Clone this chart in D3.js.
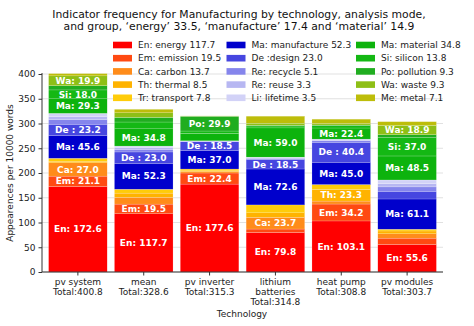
<!DOCTYPE html>
<html><head><meta charset="utf-8">
<script src="https://cdn.jsdelivr.net/npm/d3@7/dist/d3.min.js"></script>
<style>
body{margin:0;background:#fff}
text{font-family:"DejaVu Sans",sans-serif}
</style>
</head><body>
<svg id="chart" width="474" height="326"></svg>
<script>
// ---------- data ----------
const technologies = ["pv system","mean","pv inverter","lithium batteries","heat pump","pv modules"];
const xTickLabels = [["pv system","Total:400.8"],["mean","Total:328.6"],["pv inverter","Total:315.3"],
  ["lithium","batteries","Total:314.8"],["heat pump","Total:308.8"],["pv modules","Total:303.7"]];
const indicatorNames = ["En: energy","Em: emission","Ca: carbon","Th: thermal","Tr: transport",
  "Ma: manufacture","De :design","Re: recycle","Re: reuse","Li: lifetime",
  "Ma: material","Si: silicon","Po: pollution","Wa: waste","Me: metal"];
const legendValues = [117.7,19.5,13.7,8.5,7.8,52.3,23.0,5.1,3.3,3.5,34.8,13.8,9.3,9.3,7.1];
const energy      = [172.6,117.7,177.6,79.8,103.1,55.6];
const emission    = [21.1,19.5,22.4,7.0,34.2,12.8];
const carbon      = [27.0,13.7,3.0,23.7,6.0,8.8];
const thermal     = [3.0,8.5,1.5,9.0,23.3,5.7];
const transport   = [6.0,7.8,3.5,16.0,10.0,3.5];
const manufacture = [45.6,52.3,37.0,72.6,45.0,61.1];
const design      = [23.2,23.0,18.5,18.5,40.4,14.4];
const recycle     = [9.5,5.1,0.5,2.5,3.0,10.0];
const reuse       = [6.0,3.3,0.5,1.5,1.5,7.0];
const lifetime    = [6.5,3.5,0.5,1.5,2.0,7.0];
const material    = [29.3,34.8,14.8,59.0,22.4,48.5];
const silicon     = [18.0,13.8,5.0,3.9,5.0,37.0];
const pollution   = [8.5,9.3,29.9,1.2,1.0,5.9];
const waste       = [19.9,9.3,0.3,4.4,3.0,18.9];
const metal       = [4.6,7.1,0.3,14.2,8.9,7.5];
const yTicks = [0,50,100,150,200,250,300,350,400];
const titleLines = ["Indicator frequency for Manufacturing by technology, analysis mode,",
  "and group, \u2018energy\u2019 33.5, \u2018manufacture\u2019 17.4 and \u2018material\u2019 14.9"];

// ---------- styles ----------
const colors = ["#ff0000","#ff4a12","#ff8c1a","#ffb300","#ffcc0a",
  "#0000cc","#4646e0","#8585ec","#b7b7f2","#d2d2f7",
  "#0db30d","#14b814","#20ad20","#8ebf16","#bdbd0a"];

const series = [energy,emission,carbon,thermal,transport,manufacture,design,recycle,reuse,lifetime,
  material,silicon,pollution,waste,metal];

const svg = d3.select("#chart");
const x = d3.scaleBand().domain(technologies).range([42,443]).paddingInner(0.11).paddingOuter(0.1);
const y = d3.scaleLinear().domain([0,400]).range([272,74]);

// grid
svg.append("g").selectAll("line").data(yTicks).join("line")
  .attr("x1",42).attr("x2",443).attr("y1",d=>y(d)).attr("y2",d=>y(d))
  .attr("stroke","#d9d9d9").attr("stroke-width",0.8);

// stacked data
const rows = technologies.map((t,i)=>{const o={tech:t}; series.forEach((s,k)=>o["k"+k]=s[i]); return o;});
const keys = series.map((s,k)=>"k"+k);
const stacked = d3.stack().keys(keys)(rows);

const layers = svg.append("g").selectAll("g").data(stacked).join("g")
  .attr("fill",(d,i)=>colors[i]);
layers.selectAll("rect").data(d=>d).join("rect")
  .attr("x",d=>x(d.data.tech)).attr("width",x.bandwidth())
  .attr("y",d=>y(d[1])).attr("height",d=>y(d[0])-y(d[1]))
  .attr("stroke","#ffffff").attr("stroke-width",0.3).attr("stroke-opacity",0.6);

// segment labels
stacked.forEach((layer,k)=>{
  const abbr = indicatorNames[k].split(":")[0];
  svg.append("g").selectAll("text").data(layer.filter(d=>d[1]-d[0]>=17)).join("text")
    .attr("x",d=>x(d.data.tech)+x.bandwidth()/2)
    .attr("y",d=>y((d[0]+d[1])/2))
    .attr("dy","0.35em").attr("text-anchor","middle")
    .attr("fill","#fff").attr("font-weight","bold").attr("font-size",9)
    .text(d=>abbr+": "+(d[1]-d[0]).toFixed(1));
});

// axes
const yAxis = d3.axisLeft(y).tickValues(yTicks).tickSize(3.5).tickPadding(3);
const gy = svg.append("g").attr("transform","translate(42,0)").call(yAxis);
gy.select(".domain").attr("d","M0,"+y(0)+"V"+(y(400)-1)).attr("stroke","#333");
gy.selectAll(".tick line").attr("stroke","#333");
gy.selectAll("text").attr("font-size",9).attr("fill","#222").attr("font-family","DejaVu Sans");

const xAxis = d3.axisBottom(x).tickSize(3.5).tickFormat("");
const gx = svg.append("g").attr("transform","translate(0,272)").call(xAxis);
gx.select(".domain").attr("d","M42,0H443").attr("stroke","#333");
gx.selectAll(".tick line").attr("stroke","#333");
gx.selectAll(".tick").each(function(d,i){
  const t = d3.select(this).append("text").attr("fill","#222").attr("font-size",9)
    .attr("text-anchor","middle").attr("font-family","DejaVu Sans");
  xTickLabels[i].forEach((ln,j)=>t.append("tspan").attr("x",0).attr("y",13+j*10).text(ln));
});

svg.append("text").attr("x",242).attr("y",317).attr("text-anchor","middle")
  .attr("font-size",9).attr("fill","#222").text("Technology");
svg.append("text").attr("transform","translate(13,173) rotate(-90)").attr("text-anchor","middle")
  .attr("font-size",9).attr("fill","#222").text("Appearences per 10000 words");

// title
svg.append("g").selectAll("text").data(titleLines).join("text")
  .attr("x",239).attr("y",(d,i)=>17.5+i*12.5).attr("text-anchor","middle")
  .attr("font-size",10.8).attr("fill","#111").text(d=>d);

// legend
const colX = [113,226.5,356];
const leg = svg.append("g");
indicatorNames.forEach((n,i)=>{
  const c = Math.floor(i/5), r = i%5;
  const cy = 45 + r*13.2;
  leg.append("rect").attr("x",colX[c]).attr("y",cy-3.3).attr("width",19).attr("height",6.6).attr("fill",colors[i]);
  leg.append("text").attr("x",colX[c]+25).attr("y",cy).attr("dy","0.35em")
    .attr("font-size",9).attr("fill","#222").text(n+" "+legendValues[i].toFixed(1));
});
</script>
</body></html>
